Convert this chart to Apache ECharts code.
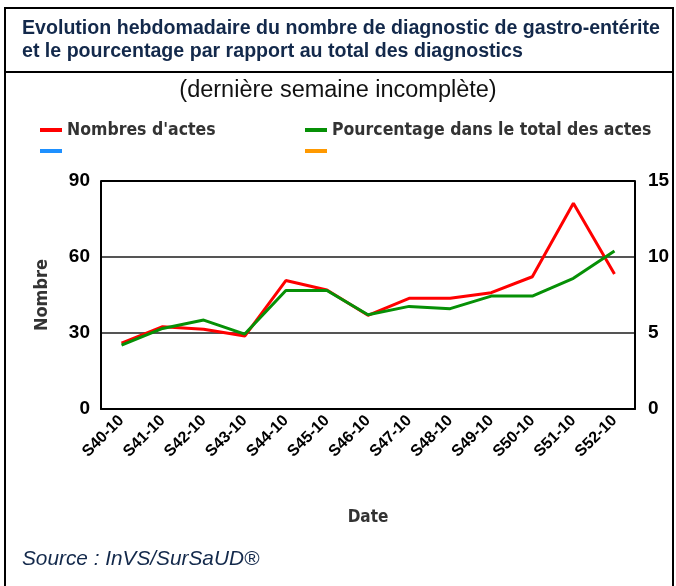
<!DOCTYPE html>
<html>
<head>
<meta charset="utf-8">
<script src="https://cdn.jsdelivr.net/npm/echarts@6/dist/echarts.min.js"></script>
<style>
html,body{margin:0;padding:0;background:#fff;}
#chart{width:676px;height:586px;}
</style>
</head>
<body>
<div id="chart"></div>
<script>
// semaines
var semaines=['S40-10','S41-10','S42-10','S43-10','S44-10','S45-10','S46-10','S47-10','S48-10','S49-10','S50-10','S51-10','S52-10'];
// nombre d'actes (axe gauche)
var nombres=[26,32.5,31.5,28.8,50.7,47,37,43.7,43.7,45.9,52.2,81.2,53.3];
// pourcentage (axe droit)
var pourcentages=[4.2,5.3,5.85,4.93,7.8,7.8,6.2,6.75,6.6,7.43,7.43,8.6,10.4];

var narrow='"DejaVu Sans Condensed", "Liberation Sans", Arial, sans-serif';
var arial='"Liberation Sans", Arial, sans-serif';

function loadChart(){
    var mychart=echarts.init(document.getElementById('chart'));
    var option={
        animation:false,
        backgroundColor:'#fff',
        graphic:[
            //cadre
            {type:'rect',shape:{x:5,y:8,width:668,height:600},style:{fill:'none',stroke:'#000',lineWidth:2}},
            {type:'line',shape:{x1:5,y1:72,x2:673,y2:72},style:{stroke:'#000',lineWidth:2}},
            {type:'text',left:22,top:17,style:{text:'Evolution hebdomadaire du nombre de diagnostic de gastro-entérite\net le pourcentage par rapport au total des diagnostics',
                fill:'#13294b',font:'bold 19.6px '+arial,lineHeight:23}},
            {type:'text',left:'center',top:79,style:{text:'(dernière semaine incomplète)',fill:'#111',font:'23.5px '+arial}},
            {type:'text',left:22,top:549,style:{text:'Source : InVS/SurSaUD®',fill:'#13294b',font:'italic 20.8px '+arial}}
        ],
        legend:[
            {data:["Nombres d'actes"],left:40,top:121,padding:0,icon:'rect',itemWidth:22,itemHeight:4,itemGap:5,selectedMode:false,
                textStyle:{fontFamily:narrow,fontWeight:'bold',fontSize:17.5,color:'#333'}},
            {data:['Pourcentage dans le total des actes'],left:305,top:121,padding:0,icon:'rect',itemWidth:22,itemHeight:4,itemGap:5,selectedMode:false,
                textStyle:{fontFamily:narrow,fontWeight:'bold',fontSize:17.5,color:'#333'}},
            {data:['s3'],left:40,top:149,padding:0,icon:'rect',itemWidth:22,itemHeight:4,selectedMode:false,formatter:function(){return '';}},
            {data:['s4'],left:305,top:149,padding:0,icon:'rect',itemWidth:22,itemHeight:4,selectedMode:false,formatter:function(){return '';}}
        ],
        grid:{left:101,right:41,top:181,bottom:177},
        xAxis:{
            type:'category',
            data:semaines,
            boundaryGap:true,
            name:'Date',
            nameLocation:'middle',
            nameGap:100,
            nameTextStyle:{fontFamily:narrow,fontWeight:'bold',fontSize:17,color:'#333'},
            axisLine:{lineStyle:{color:'#000',width:2}},
            axisTick:{alignWithLabel:true,length:6,lineStyle:{color:'#000',width:1.5}},
            axisLabel:{rotate:45,fontFamily:arial,fontWeight:'bold',fontSize:16,color:'#000',margin:9,interval:0}
        },
        yAxis:[
            {
                type:'value',min:0,max:90,interval:30,
                name:'Nombre',nameLocation:'middle',nameGap:50,
                nameTextStyle:{fontFamily:narrow,fontWeight:'bold',fontSize:18,color:'#333'},
                axisLine:{show:true,lineStyle:{color:'#000',width:2}},
                axisTick:{show:false},
                axisLabel:{fontFamily:arial,fontWeight:'bold',fontSize:19,color:'#000',margin:11},
                splitLine:{show:true,lineStyle:{color:['transparent','#555','#555','#000'],width:2}}
            },
            {
                type:'value',min:0,max:15,interval:5,
                axisLine:{show:true,lineStyle:{color:'#000',width:2}},
                axisTick:{show:false},
                axisLabel:{fontFamily:arial,fontWeight:'bold',fontSize:19,color:'#000',margin:13},
                splitLine:{show:false}
            }
        ],
        series:[
            {name:"Nombres d'actes",type:'line',data:nombres,yAxisIndex:0,color:'#ff0000',
                symbol:'none',lineStyle:{width:3,color:'#ff0000'}},
            {name:'Pourcentage dans le total des actes',type:'line',data:pourcentages,yAxisIndex:1,color:'#069006',
                symbol:'none',lineStyle:{width:3,color:'#069006'}},
            {name:'s3',type:'line',data:[],color:'#1e90ff',symbol:'none'},
            {name:'s4',type:'line',data:[],color:'#ff9900',symbol:'none'}
        ]
    };
    mychart.setOption(option);
}
loadChart();
</script>
</body>
</html>
